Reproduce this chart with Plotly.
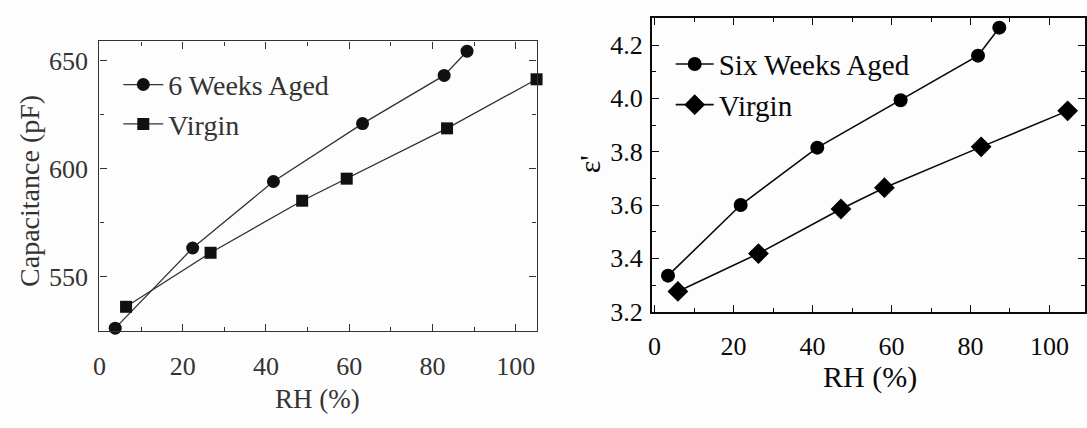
import plotly.graph_objects as go

# ---- data ----
left_aged_x = [3.8, 22.4, 41.8, 63.2, 82.8, 88.3]
left_aged_y = [526.3, 563.4, 594.2, 621.0, 643.3, 654.5]
left_virgin_x = [6.4, 26.7, 48.7, 59.4, 83.5, 105.0]
left_virgin_y = [536.2, 561.2, 585.3, 595.5, 618.8, 641.5]

right_aged_x = [3.4, 21.8, 41.2, 62.3, 81.9, 87.3]
right_aged_y = [3.335, 3.60, 3.815, 3.993, 4.16, 4.265]
right_virgin_x = [5.9, 26.3, 47.2, 58.2, 82.7, 104.6]
right_virgin_y = [3.276, 3.418, 3.585, 3.665, 3.818, 3.953]

x_ticks = [0, 20, 40, 60, 80, 100]
left_y_ticks = [550, 600, 650]
right_y_ticks = [3.2, 3.4, 3.6, 3.8, 4.0, 4.2]

W, H = 1087, 428
FONT = "Liberation Serif"
LC = "#333333"   # left panel ink (greyish scan)
RC = "#0a0a0a"   # right panel ink

fig = go.Figure()

fig.add_trace(go.Scatter(x=left_aged_x, y=left_aged_y, mode="lines+markers",
                         name="6 Weeks Aged", xaxis="x", yaxis="y", legend="legend",
                         line=dict(color=LC, width=1.3),
                         marker=dict(symbol="circle", size=13, color="#111111"),
                         cliponaxis=False))
fig.add_trace(go.Scatter(x=left_virgin_x, y=left_virgin_y, mode="lines+markers",
                         name="Virgin", xaxis="x", yaxis="y", legend="legend",
                         line=dict(color=LC, width=1.3),
                         marker=dict(symbol="square", size=12, color="#111111"),
                         cliponaxis=False))
fig.add_trace(go.Scatter(x=right_aged_x, y=right_aged_y, mode="lines+markers",
                         name="Six Weeks Aged", xaxis="x2", yaxis="y2", legend="legend2",
                         line=dict(color=RC, width=1.6),
                         marker=dict(symbol="circle", size=14, color="#000000"),
                         cliponaxis=False))
fig.add_trace(go.Scatter(x=right_virgin_x, y=right_virgin_y, mode="lines+markers",
                         name="Virgin", xaxis="x2", yaxis="y2", legend="legend2",
                         line=dict(color=RC, width=1.6),
                         marker=dict(symbol="diamond", size=16, color="#000000"),
                         cliponaxis=False))

def axis(domain, rng, tickvals, color, lw, minor_dtick, anchor, fmt=None, standoff=4):
    d = dict(domain=domain, range=rng, tickmode="array", tickvals=tickvals,
             showgrid=False, zeroline=False, showline=True, linecolor=color, linewidth=lw,
             mirror="ticks", ticks="inside", ticklen=7, tickwidth=1.3, tickcolor=color,
             anchor=anchor, ticklabelstandoff=standoff,
             minor=dict(ticks="inside", ticklen=4, tickwidth=1.3, tickcolor=color, dtick=minor_dtick,
                        showgrid=False))
    if fmt:
        d["tickformat"] = fmt
    return d

fig.update_layout(
    width=W, height=H, margin=dict(l=0, r=0, t=0, b=0),
    font=dict(family=FONT, size=26),
    paper_bgcolor="#fdfdfd", plot_bgcolor="#fdfdfd",
    xaxis=axis([93 / W, 533 / W], [0, 105], x_ticks, LC, 1.4, 10, "y", standoff=12),
    yaxis=axis([1 - 343 / H, 1 - 43 / H], [525, 659], left_y_ticks, LC, 1.4, 25, "x", standoff=5),
    xaxis2=axis([649 / W, 1085 / W], [-0.7, 109], x_ticks, RC, 1.8, 10, "y2", standoff=10),
    yaxis2=axis([1 - 323 / H, 1 - 19 / H], [3.2, 4.30], right_y_ticks, RC, 1.8, 0.1, "x2", ".1f", standoff=2),
    legend=dict(x=112 / W, y=1 - 62 / H, xanchor="left", yanchor="top",
                bgcolor="rgba(0,0,0,0)", borderwidth=0, tracegroupgap=0, itemwidth=40,
                font=dict(family=FONT, size=28, color=LC)),
    legend2=dict(x=668 / W, y=1 - 40 / H, xanchor="left", yanchor="top",
                 bgcolor="rgba(0,0,0,0)", borderwidth=0, tracegroupgap=0, itemwidth=38,
                 font=dict(family=FONT, size=29, color=RC)),
    showlegend=True,
)
fig.update_xaxes(tickfont=dict(family=FONT, size=26))
fig.update_yaxes(tickfont=dict(family=FONT, size=26))
fig.layout.xaxis.tickfont.color = LC
fig.layout.yaxis.tickfont.color = LC
fig.layout.xaxis2.tickfont.color = RC
fig.layout.yaxis2.tickfont.color = RC

ann = dict(xref="paper", yref="paper", showarrow=False, xanchor="center", yanchor="middle")
fig.add_annotation(text="RH (%)", x=313 / W, y=1 - 413 / H,
                   font=dict(family=FONT, size=27, color=LC), **ann)
fig.add_annotation(text="Capacitance (pF)", x=22 / W, y=1 - 198 / H, textangle=-90,
                   font=dict(family=FONT, size=28, color=LC), **ann)
fig.add_annotation(text="RH (%)", x=869 / W, y=1 - 391 / H,
                   font=dict(family=FONT, size=30, color=RC), **ann)
fig.add_annotation(text="ε'", x=586 / W, y=1 - 170 / H, textangle=-90,
                   font=dict(family=FONT, size=30, color=RC), **ann)

fig.write_html("out.html")
